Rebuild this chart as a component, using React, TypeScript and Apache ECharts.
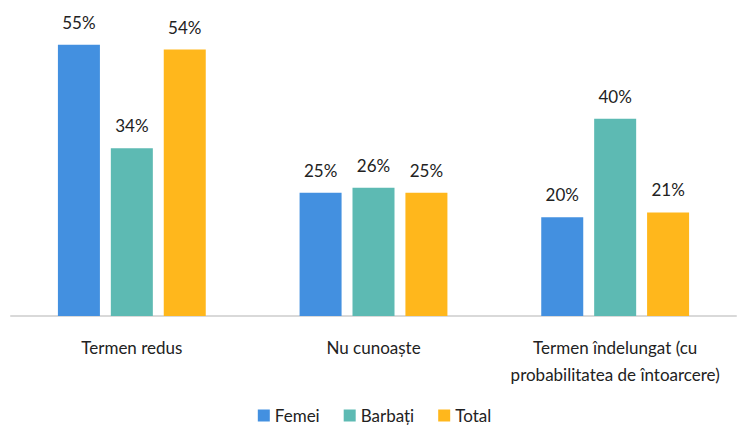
import React, { useEffect, useRef } from "react";
import * as echarts from "echarts";

const categories = ["Termen redus", "Nu cunoaște", "Termen îndelungat (cu\nprobabilitatea de întoarcere)"];
const femei = [55, 25, 20];
const barbati = [34, 26, 40];
const total = [54, 25, 21];
const seriesNames = ["Femei", "Barbați", "Total"];
const colors = ["#4390e0", "#5dbab3", "#ffb71c"];

export default function App() {
  const ref = useRef<HTMLDivElement>(null);
  useEffect(() => {
    if (!ref.current) return;
    const chart = echarts.init(ref.current, null, { renderer: "svg" });
    const font = "Lato, 'Open Sans', sans-serif";
    const data = [femei, barbati, total];
    chart.setOption({
      animation: false,
      textStyle: { fontFamily: font },
      grid: { left: 11, right: 13, top: 20, bottom: 113 },
      legend: {
        top: 407,
        left: "center",
        padding: 0,
        icon: "rect",
        itemWidth: 12,
        itemHeight: 12,
        itemGap: 24,
        textStyle: { fontSize: 17, color: "#222", fontFamily: font },
        data: seriesNames,
      },
      xAxis: {
        type: "category",
        data: categories,
        axisLine: { lineStyle: { color: "#d9d9d9", width: 2 } },
        axisTick: { show: false },
        axisLabel: { interval: 0, fontSize: 17, color: "#222", margin: 18, lineHeight: 27, fontFamily: font },
      },
      yAxis: { type: "value", min: 0, max: 60, show: false, splitLine: { show: false } },
      series: seriesNames.map((name, i) => ({
        name,
        type: "bar",
        data: data[i],
        barWidth: 42,
        barGap: "26%",
        itemStyle: { color: colors[i] },
        label: {
          show: true,
          position: "top",
          distance: 14,
          formatter: "{c}%",
          fontSize: 17,
          color: "#222",
          fontFamily: font,
        },
      })),
    });
    return () => chart.dispose();
  }, []);
  return <div ref={ref} style={{ width: 749, height: 429, position: "absolute", left: 0, top: 0 }} />;
}
